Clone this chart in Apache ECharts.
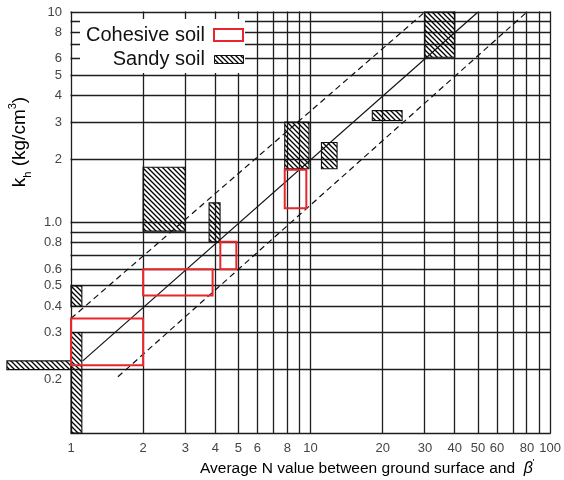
<!DOCTYPE html>
<html><head><meta charset="utf-8">
<script src="https://cdn.jsdelivr.net/npm/echarts@6/dist/echarts.min.js"></script>
<style>html,body{margin:0;padding:0;background:#fff}#c{width:564px;height:480px}</style>
</head><body><div id="c"></div>
<script>
// Tick labels
const xTicks = [1, 2, 3, 4, 5, 6, 8, 10, 20, 30, 40, 50, 60, 80, 100];
const yTicks = [0.2, 0.3, 0.4, 0.5, 0.6, 0.8, 1, 2, 3, 4, 5, 6, 8, 10];
const yTickLabels = ['0.2', '0.3', '0.4', '0.5', '0.6', '0.8', '1.0', '2', '3', '4', '5', '6', '8', '10'];
// Grid line values
const xGrid = [1, 2, 3, 4, 5, 6, 7, 8, 9, 10, 20, 30, 40, 50, 60, 70, 80, 90, 100];
const yGrid = [0.1, 0.2, 0.3, 0.4, 0.5, 0.6, 0.7, 0.8, 0.9, 1, 2, 3, 4, 5, 6, 7, 8, 9, 10];
// Boxes: [N from, N to, kh from, kh to]
const cohesiveBoxes = [
  [1, 2, 0.21, 0.35],
  [2, 3.9, 0.45, 0.6],
  [4.2, 4.9, 0.6, 0.81],
  [7.8, 9.6, 1.17, 1.78]
];
const sandyBoxes = [
  [0.54, 1, 0.2, 0.22],
  [1, 1.11, 0.1, 0.3],
  [1, 1.11, 0.4, 0.5],
  [2, 3, 0.91, 1.83],
  [3.77, 4.19, 0.81, 1.24],
  [7.8, 9.85, 1.8, 3.0],
  [11.1, 12.9, 1.8, 2.4],
  [18.1, 24.1, 3.05, 3.4],
  [30, 40, 6.1, 10]
];
// Lines: [N, kh]
const solidLine = [[1.12, 0.22], [50, 10]];
const upperDashed = [[1, 0.35], [30, 10]];
const lowerDashed = [[1.57, 0.185], [80, 10]];

function hatchPattern() {
  const s = 5, c = document.createElement('canvas');
  c.width = s; c.height = s;
  const g = c.getContext('2d');
  g.strokeStyle = '#000'; g.lineWidth = 1.3;
  g.beginPath();
  g.moveTo(-1, -1); g.lineTo(s + 1, s + 1);
  g.moveTo(s - 1, -1); g.lineTo(s + 1, 1);
  g.moveTo(-1, s - 1); g.lineTo(1, s + 1);
  g.stroke();
  return { image: c, repeat: 'repeat' };
}
const hatch = hatchPattern();
const FONT = 'Liberation Sans, Arial, sans-serif';
const GRID_COLOR = '#1e1e1e';

const chart = echarts.init(document.getElementById('c'), null, { renderer: 'canvas' });

function crisp(v) { return Math.round(v - 0.5) + 0.5; }

function boxRender(kind) {
  return function (params, api) {
    const p0 = api.coord([api.value(0), api.value(3)]);
    const p1 = api.coord([api.value(1), api.value(2)]);
    const style = kind === 'sandy'
      ? { fill: hatch, stroke: '#111', lineWidth: 1.1 }
      : { fill: 'none', stroke: '#e8262b', lineWidth: 2 };
    return {
      type: 'rect',
      shape: { x: p0[0], y: p0[1], width: p1[0] - p0[0], height: p1[1] - p0[1] },
      style: style
    };
  };
}

chart.setOption({
  animation: false,
  backgroundColor: '#fff',
  grid: { left: 71, right: 11, top: 12, bottom: 47, containLabel: false },
  xAxis: {
    type: 'log', min: 1, max: 100, logBase: 10,
    axisLine: { show: false }, axisTick: { show: false }, splitLine: { show: false },
    axisLabel: {
      customValues: xTicks, margin: 9, color: '#444', fontSize: 13, fontFamily: FONT,
      formatter: v => String(Math.round(v))
    }
  },
  yAxis: {
    type: 'log', min: 0.1, max: 10, logBase: 10,
    axisLine: { show: false }, axisTick: { show: false }, splitLine: { show: false },
    axisLabel: {
      customValues: yTicks, margin: 9, color: '#444', fontSize: 13, fontFamily: FONT,
      formatter: v => {
        const i = yTicks.findIndex(t => Math.abs(t - v) < 1e-6 * t);
        if (i < 0) return '';
        return i === 0 ? '{low|' + yTickLabels[i] + '}' : yTickLabels[i];
      },
      rich: {
        low: { color: '#444', fontSize: 13, fontFamily: FONT, padding: [20, 0, 0, 0] }
      }
    }
  },
  graphic: [
    { type: 'rect', z: 100, shape: { x: 80, y: 19, width: 165, height: 54 }, style: { fill: '#fff' } },
    { type: 'text', z: 101, x: 205, y: 35, style: { text: 'Cohesive soil', font: '20px ' + FONT, fill: '#111', align: 'right', verticalAlign: 'middle' } },
    { type: 'text', z: 101, x: 205, y: 59, style: { text: 'Sandy soil', font: '20px ' + FONT, fill: '#111', align: 'right', verticalAlign: 'middle' } },
    { type: 'rect', z: 101, shape: { x: 214, y: 29, width: 29, height: 12 }, style: { fill: '#fff', stroke: '#e8262b', lineWidth: 2 } },
    { type: 'rect', z: 101, shape: { x: 214.5, y: 55.5, width: 29, height: 8 }, style: { fill: hatch, stroke: '#111', lineWidth: 1 } },
    {
      type: 'text', z: 101, x: 20, y: 142, rotation: Math.PI / 2,
      style: {
        text: '{a|k}{s|h}{a| (kg/cm}{p|3}{a|)}', align: 'center', verticalAlign: 'middle',
        rich: {
          a: { fontSize: 19, fontFamily: FONT, color: '#222', lineHeight: 26, verticalAlign: 'middle' },
          s: { fontSize: 11, fontFamily: FONT, color: '#222', lineHeight: 26, verticalAlign: 'bottom' },
          p: { fontSize: 11, fontFamily: FONT, color: '#222', lineHeight: 26, verticalAlign: 'top' }
        }
      }
    },
    {
      type: 'text', z: 101, x: 200, y: 469,
      style: {
        text: '{a|Average N value between ground surface and  }{b|β}{p|\'}', align: 'left', verticalAlign: 'middle',
        rich: {
          a: { fontSize: 15.5, fontFamily: FONT, color: '#222', lineHeight: 22, verticalAlign: 'middle' },
          b: { fontSize: 16, fontFamily: FONT, fontStyle: 'italic', color: '#222', lineHeight: 22, verticalAlign: 'middle' },
          p: { fontSize: 9, fontFamily: FONT, color: '#222', lineHeight: 22, verticalAlign: 'top' }
        }
      }
    }
  ],
  series: [
    {
      type: 'custom', name: 'vgrid', z: 1, silent: true,
      data: xGrid.map(v => [v, 1]),
      renderItem: (params, api) => {
        const x = crisp(api.coord([api.value(0), 1])[0]);
        const y0 = api.coord([1, 0.1])[1], y1 = api.coord([1, 10])[1];
        return { type: 'line', shape: { x1: x, y1: y0 + 0.5, x2: x, y2: y1 - 0.5 }, style: { stroke: GRID_COLOR, lineWidth: 1.3 } };
      }
    },
    {
      type: 'custom', name: 'hgrid', z: 1, silent: true,
      data: yGrid.map(v => [1, v]),
      renderItem: (params, api) => {
        const y = crisp(api.coord([1, api.value(1)])[1]);
        const x0 = api.coord([1, 1])[0], x1 = api.coord([100, 1])[0];
        return { type: 'line', shape: { x1: x0 - 0.5, y1: y, x2: x1 + 0.5, y2: y }, style: { stroke: GRID_COLOR, lineWidth: 1.3 } };
      }
    },
    {
      type: 'custom', name: 'Sandy soil', z: 3, silent: true, clip: false,
      data: sandyBoxes, renderItem: boxRender('sandy')
    },
    {
      type: 'line', name: 'solid', z: 4, data: solidLine, symbol: 'none', silent: true,
      lineStyle: { color: '#111', width: 1.2, type: 'solid' }
    },
    {
      type: 'line', name: 'upper', z: 4, data: upperDashed, symbol: 'none', silent: true,
      lineStyle: { color: '#111', width: 1.2, type: [6, 4] }
    },
    {
      type: 'line', name: 'lower', z: 4, data: lowerDashed, symbol: 'none', silent: true,
      lineStyle: { color: '#111', width: 1.2, type: [6, 4] }
    },
    {
      type: 'custom', name: 'Cohesive soil', z: 5, silent: true, clip: false,
      data: cohesiveBoxes, renderItem: boxRender('cohesive')
    }
  ]
});
</script></body></html>
